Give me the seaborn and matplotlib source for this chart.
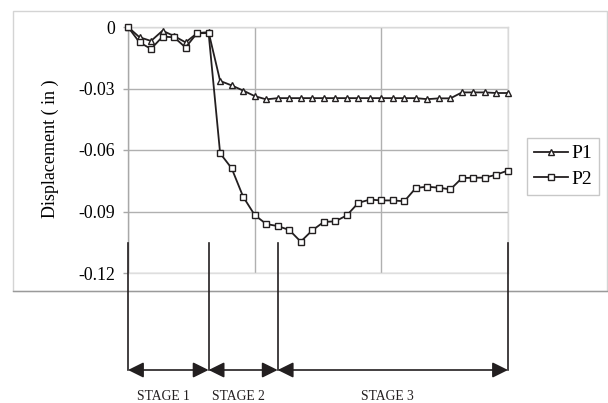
import matplotlib
matplotlib.use("Agg")
import matplotlib.pyplot as plt
import matplotlib.transforms as mtransforms
from matplotlib.patches import Rectangle
from matplotlib.lines import Line2D
import seaborn as sns
import pandas as pd
import numpy as np

# ---------------- data ----------------
p1 = [0, -0.005, -0.0068, -0.0018, -0.0044, -0.0075, -0.003, -0.0025,
      -0.0263, -0.0285, -0.031, -0.0337, -0.0353, -0.0347, -0.0347, -0.0347,
      -0.0347, -0.0347, -0.0347, -0.0347, -0.0347, -0.0347, -0.0347, -0.0347,
      -0.0347, -0.0347, -0.0352, -0.0348, -0.0348, -0.0319, -0.0319, -0.0319,
      -0.0322, -0.0322]
p2 = [0, -0.0075, -0.0107, -0.0047, -0.005, -0.010, -0.003, -0.003,
      -0.0616, -0.0689, -0.0828, -0.0917, -0.0961, -0.0971, -0.099, -0.1047,
      -0.0992, -0.0951, -0.0948, -0.0919, -0.0858, -0.0842, -0.0846, -0.0846,
      -0.085, -0.0785, -0.0779, -0.0784, -0.0792, -0.0737, -0.0735, -0.0735,
      -0.072, -0.070]
series_names = ["P1", "P2"]
y_ticks = [0, -0.03, -0.06, -0.09, -0.12]
y_tick_labels = ["0", "-0.03", "-0.06", "-0.09", "-0.12"]
x_grid = [0, 11, 22, 33]
stage_bounds = [0, 7, 13, 33]
stage_labels = ["STAGE 1", "STAGE 2", "STAGE 3"]
y_label = "Displacement ( in )"

# ---------------- figure ----------------
W, H = 608, 403
DPI = 100
plt.rcParams['font.family'] = ['Liberation Serif', 'DejaVu Serif']
fig = plt.figure(figsize=(W / DPI, H / DPI), dpi=DPI)

def fx(px):
    return px / W

def fy(py):
    return 1 - py / H

# outer chart frame
fig.add_artist(Rectangle((fx(13), fy(290.7)), fx(607) - fx(13), fy(10.7) - fy(290.7),
                         transform=fig.transFigure, fill=False,
                         edgecolor='#d4d4d4', lw=1.0, zorder=0))
fig.add_artist(Line2D([fx(13), fx(607)], [fy(290.7), fy(290.7)],
                      transform=fig.transFigure, color='#9a9a9a', lw=1.0, zorder=0))

ax = fig.add_axes([fx(128), fy(273), fx(508) - fx(128), fy(27) - fy(273)])

n = len(p1)
df = pd.DataFrame({
    "idx": list(range(n)) * 2,
    "val": p1 + p2,
    "series": [series_names[0]] * n + [series_names[1]] * n,
})

dark = '#231f20'
sns.lineplot(data=df, x="idx", y="val", hue="series", style="series",
             markers={"P1": "^", "P2": "s"}, dashes=False,
             palette={"P1": dark, "P2": dark}, errorbar=None, legend=False,
             ax=ax, lw=1.3)

for line, ms in zip(ax.lines[:2], [5.0, 4.4]):
    line.set_color(dark)
    line.set_markerfacecolor('white')
    line.set_markeredgecolor(dark)
    line.set_markeredgewidth(1.0)
    line.set_markersize(ms)
    line.set_clip_on(False)
    line.set_zorder(5)

ax.set_xlim(0, 33)
ax.set_ylim(-0.12, 0)
ax.set_yticks(y_ticks)
ax.set_yticklabels(y_tick_labels, fontsize=12.8)
ax.set_xticks(x_grid)
ax.set_xticklabels([])
ax.tick_params(axis='x', length=0)
ax.tick_params(axis='y', length=3.6, width=1, color='#a8a8a8', pad=5.5)
ax.set_xlabel("")
ax.set_ylabel("")
ax.grid(True, color='#b0b0b0', lw=1.0)
ax.set_axisbelow(True)
for side, col in [('top', '#d9d9d9'), ('right', '#d9d9d9'),
                  ('left', '#a8a8a8'), ('bottom', '#dedede')]:
    ax.spines[side].set_color(col)
    ax.spines[side].set_linewidth(1.0)

fig.text(fx(50), fy(149), y_label, rotation=90, ha='center', va='center',
         fontsize=13)

# legend
fig.legend(handles=ax.lines[:2], labels=series_names, loc='upper left',
           bbox_to_anchor=(fx(527), fy(138)), frameon=True, fancybox=False,
           edgecolor='#c8c8c8', framealpha=1, fontsize=14,
           handlelength=1.75, handletextpad=0.2, borderpad=0.35,
           labelspacing=0.4, borderaxespad=0)

# stage annotation
trans = mtransforms.blended_transform_factory(ax.transData, fig.transFigure)
for b in stage_bounds:
    ax.plot([b, b], [fy(243), fy(370)], transform=trans, color=dark, lw=1.2,
            clip_on=False, zorder=6)
for i, lab in enumerate(stage_labels):
    a, b = stage_bounds[i], stage_bounds[i + 1]
    ax.annotate("", xy=(b, fy(370)), xytext=(a, fy(370)),
                xycoords=trans, textcoords=trans,
                arrowprops=dict(arrowstyle='<|-|>,head_length=0.95,head_width=0.47',
                                color=dark, lw=1.2, shrinkA=0, shrinkB=0),
                annotation_clip=False)
    off = mtransforms.offset_copy(trans, fig=fig, x=-5, y=0, units='dots')
    ax.text((a + b) / 2, fy(397), lab, transform=off, ha='center',
            va='center', fontsize=9.8, color=dark)

fig.savefig("out.png", dpi=DPI)
